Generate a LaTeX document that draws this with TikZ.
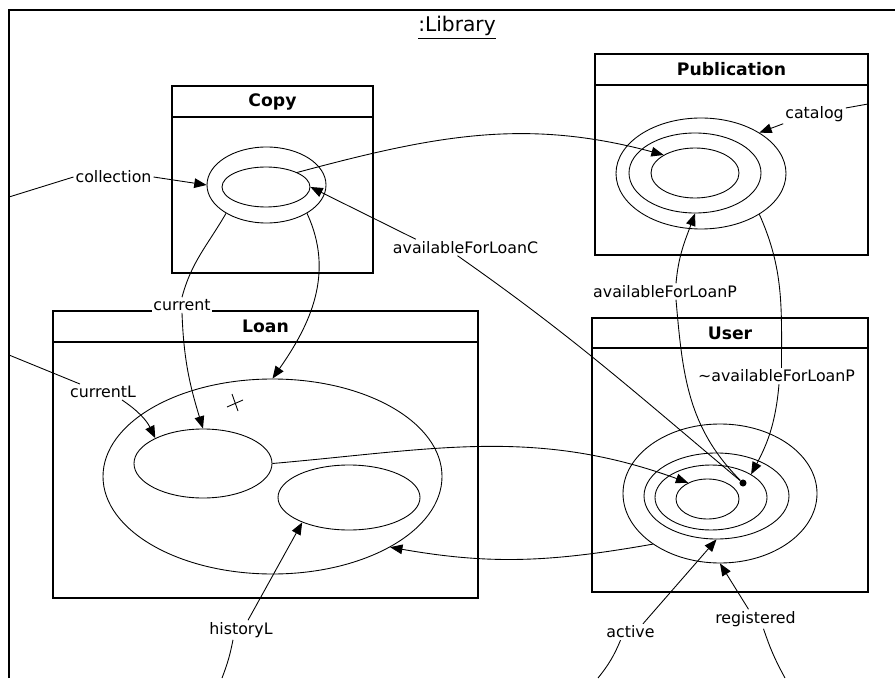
\documentclass[tikz,border=0pt]{standalone}
\usepackage{fontspec}
\setmainfont{DejaVu Sans}
\usepackage{tikz}
\usetikzlibrary{calc}
\usetikzlibrary{arrows.meta,shapes.geometric}

\tikzset{
	cadre/.style={line width=1.2pt},
	lien/.style={line width=0.5pt},
	fleche/.style={lien,-{Triangle[length=7pt,width=5.5pt]}},
	ens/.style={ellipse,draw,line width=0.5pt,inner sep=0pt},
	etiq/.style={inner sep=1pt,font=\fontsize{9}{10}\selectfont},
	titre/.style={font=\fontsize{9.8}{12}\selectfont\bfseries},
	point/.style={circle,fill=black,inner sep=0pt,minimum size=4pt}
}

\begin{document}
\begin{tikzpicture}
	\useasboundingbox (0,0) rectangle (17.9,13.56);
%					Cadre :Library :
	\draw[cadre] (0.18,0) -- (0.18,13.36) -- (17.9,13.36);
	\node[font=\fontsize{11.5}{13}\selectfont] (lib) at (9.14,13.0) {\underline{:Library}};
%					Boîtes :
	\draw[cadre] (3.44,8.10) rectangle (7.46,11.84);
	\draw[cadre] (3.44,11.22) -- (7.46,11.22);
	\node[titre] (tCopy) at (5.45,11.53) {Copy};
	\draw[cadre] (11.90,8.46) rectangle (17.36,12.48);
	\draw[cadre] (11.90,11.86) -- (17.36,11.86);
	\node[titre] (tPub) at (14.63,12.17) {Publication};
	\draw[cadre] (1.06,1.60) rectangle (9.56,7.34);
	\draw[cadre] (1.06,6.72) -- (9.56,6.72);
	\node[titre] (tLoan) at (5.31,7.03) {Loan};
	\draw[cadre] (11.84,1.72) rectangle (17.36,7.20);
	\draw[cadre] (11.84,6.60) -- (17.36,6.60);
	\node[titre] (tUser) at (14.60,6.90) {User};
%					Ensembles :
	\node[ens,minimum width=2.38cm,minimum height=1.52cm] (cpOut) at (5.33,9.86) {};
	\node[ens,minimum width=1.76cm,minimum height=0.80cm] (cpIn) at (5.32,9.82) {};
	\node[ens,minimum width=3.40cm,minimum height=2.22cm] (pubA) at (14.02,10.09) {};
	\node[ens,minimum width=2.64cm,minimum height=1.60cm] (pubB) at (13.90,10.10) {};
	\node[ens,minimum width=1.76cm,minimum height=1.00cm] (pubC) at (13.90,10.10) {};
	\node[ens,minimum width=3.88cm,minimum height=2.78cm] (usrA) at (14.40,3.69) {};
	\node[ens,minimum width=2.90cm,minimum height=1.72cm] (usrB) at (14.33,3.64) {};
	\node[ens,minimum width=2.24cm,minimum height=1.30cm] (usrC) at (14.22,3.61) {};
	\node[ens,minimum width=1.26cm,minimum height=0.80cm] (usrD) at (14.15,3.58) {};
	\node[ens,minimum width=6.78cm,minimum height=3.90cm] (loanA) at (5.45,4.03) {};
	\node[ens,minimum width=2.76cm,minimum height=1.38cm] (loanCur) at (4.06,4.29) {};
	\node[ens,minimum width=2.84cm,minimum height=1.30cm] (loanHist) at (6.98,3.61) {};
	\node[point] (dot) at (14.86,3.90) {};
	\draw[lien] (4.54,5.42) -- (4.86,5.56) (4.64,5.68) -- (4.76,5.34);
%					Étiquettes :
	\node[etiq] (lCollection) at (2.27,10.02) {collection};
	\node[etiq,fill=white] (lCurrent) at (3.64,7.46) {current};
	\node[etiq] (lAvailC) at (9.31,8.61) {availableForLoanC};
	\node[etiq] (lCatalog) at (16.29,11.28) {catalog};
	\node[etiq] (lAvailP) at (13.30,7.73) {availableForLoanP};
	\node[etiq] (lNotAvailP) at (15.53,6.04) {\textasciitilde availableForLoanP};
	\node[etiq] (lCurrentL) at (2.06,5.72) {currentL};
	\node[etiq] (lHistoryL) at (4.82,0.96) {historyL};
	\node[etiq] (lActive) at (12.61,0.92) {active};
	\node[etiq] (lRegistered) at (15.11,1.18) {registered};
	\coordinate (fCollection) at (0.18,9.62);
	\coordinate (fCurrentL) at (0.18,6.46);
	\coordinate (eCatalog) at (17.36,11.48);
	\coordinate (bHistory) at (4.44,0);
	\coordinate (bActive) at (11.96,0);
	\coordinate (bRegistered) at (15.70,0);
%					Liens :
	\draw[lien] (fCollection) -- (lCollection.west);
	\draw[fleche] (lCollection.east) -- (cpOut.west);
	\draw[lien] (cpOut.215) to[out=240,in=75] (lCurrent.north);
	\draw[fleche] (lCurrent.south) to[out=-88,in=107] (loanCur.north);
	\draw[fleche] (cpOut.325) to[out=-65,in=55] (loanA.north);
	\draw[fleche] (cpIn.25) to[out=15,in=165] (pubC.150);
	\draw[fleche] ([xshift=0.5cm]lAvailC.north west) -- (cpIn.east);
	\draw[lien] ([xshift=-0.16cm]lAvailC.south) to[out=-35,in=140] (dot);
	\draw[lien] ([yshift=0.12cm]lCatalog.east) -- (eCatalog);
	\draw[fleche] (lCatalog.south west) -- (pubA.35);
	\draw[lien] ([xshift=0.22cm]lAvailP.south) to[out=-85,in=135] (dot);
	\draw[fleche] ([xshift=0.22cm]lAvailP.north) to[out=85,in=-110] (pubB.south);
	\draw[lien] (pubA.-35) to[out=-66,in=90] ([xshift=0.1cm]lNotAvailP.north);
	\draw[fleche] ([xshift=0.05cm]lNotAvailP.south) to[out=-95,in=62] (usrC.30);
	\draw[fleche] (loanCur.east) to[out=5,in=160] (usrD.140);
	\draw[fleche] (usrA.217) to[out=190,in=-10] (loanA.-31);
	\draw[lien] (fCurrentL) -- ([xshift=0.24cm]lCurrentL.north west);
	\draw[fleche] ([xshift=0.38cm]lCurrentL.south) to[bend left=15] (loanCur.152);
	\draw[fleche] ([xshift=0.14cm]lHistoryL.north) -- (loanHist.208);
	\draw[lien] ([xshift=-0.16cm]lHistoryL.south) to[bend left=5] (bHistory);
	\draw[fleche] ([xshift=0.25cm]lActive.north) -- (usrB.south);
	\draw[lien] ([xshift=-0.2cm]lActive.south) to[bend left=8] (bActive);
	\draw[fleche] ([xshift=-0.14cm]lRegistered.north) -- (usrA.south);
	\draw[lien] ([xshift=0.16cm]lRegistered.south) to[bend right=5] (bRegistered);
\end{tikzpicture}
\end{document}
